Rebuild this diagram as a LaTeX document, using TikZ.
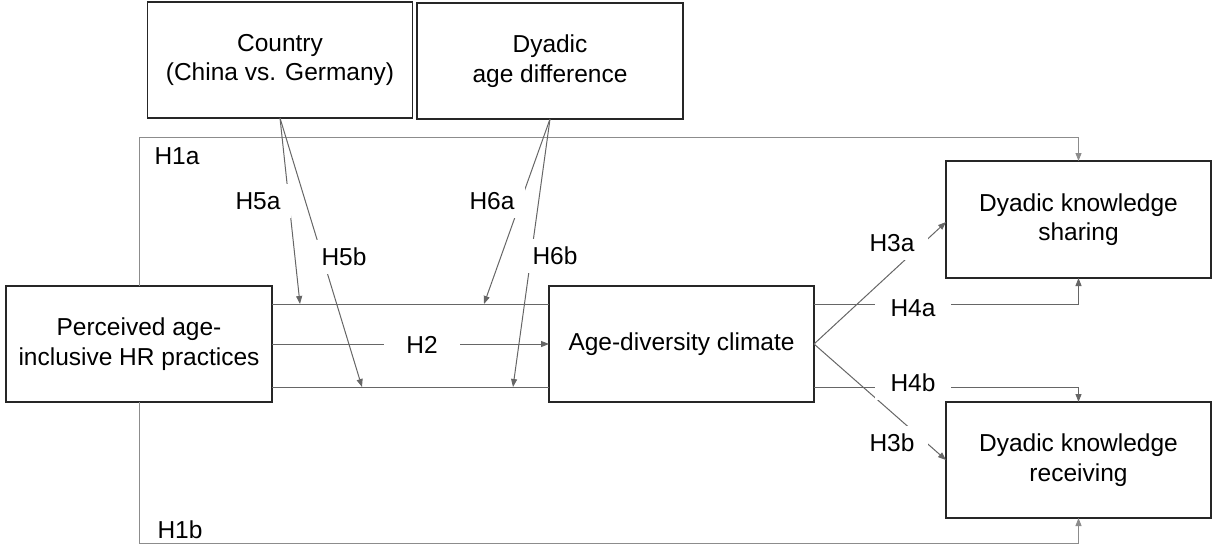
\documentclass[tikz,border=0pt]{standalone}
\usepackage{fontspec}
\setmainfont{Liberation Sans}
\usetikzlibrary{arrows.meta}
\begin{document}
\begin{tikzpicture}[x=1pt,y=-1pt,
  box/.style={draw=black!85, line width=1.4pt, fill=white, inner sep=0pt, outer sep=0pt, align=center,
    font=\fontsize{24.5}{29.5}\selectfont, minimum width=265pt, minimum height=116pt},
  con/.style={draw=black!60, line width=1pt},
  arr/.style={con, -{Triangle[length=8pt,width=6pt]}},
  lightarr/.style={arr, draw=black!45},
  lab/.style={fill=white, inner xsep=11pt, inner ysep=8pt, font=\fontsize{24.5}{29.5}\selectfont},
  plainlab/.style={inner sep=0pt, font=\fontsize{24.5}{29.5}\selectfont},
]
\useasboundingbox (0,0) rectangle (1212,544);

% boxes
\node[box] (country) at (280,60) {Country\\(China vs. Germany)};
\node[box, minimum width=266pt] (dyad) at (550,61) {Dyadic\\age difference};
\node[box, minimum width=266pt] (perc) at (139,344) {Perceived age-\\inclusive HR practices};
\node[box] (age) at (681.5,344) {Age-diversity climate};
\node[box, minimum height=117pt] (share) at (1078.5,219.5) {Dyadic knowledge\\sharing};
\node[box] (recv) at (1078.5,460) {Dyadic knowledge\\receiving};

% free ends
\coordinate (h1top) at (139,137);
\coordinate (h1bot) at (139,543);
\coordinate (t5a) at (300,304);
\coordinate (t5b) at (362,387);
\coordinate (t6a) at (484,304);
\coordinate (t6b) at (513,387);

% H1a / H1b
\draw[lightarr] (perc.north) -- (h1top) -| (share.north);
\draw[lightarr] (perc.south) -- (h1bot) -| (recv.south);

% upper / lower lines and H2
\draw[con] ([yshift=40pt]perc.east) -- ([yshift=40pt]age.west);
\draw[con] ([yshift=-43pt]perc.east) -- ([yshift=-43pt]age.west);
\draw[arr] (perc.east) -- (age.west);

% moderators
\draw[arr] (country.south) -- (t5a);
\draw[arr] (country.south) -- (t5b);
\draw[arr] (dyad.south) -- (t6a);
\draw[arr] (dyad.south) -- (t6b);

% outcomes
\draw[arr] (age.east) -- ([yshift=-2.5pt]share.west);
\draw[arr] (age.east) -- (recv.west);
\draw[arr] ([yshift=40pt]age.east) -| (share.south);
\draw[arr] ([yshift=-43pt]age.east) -| (recv.north);

% labels
\node[plainlab] (l1a) at (177,156) {H1a};
\node[plainlab] (l1b) at (180,530) {H1b};
\node[lab] (l5a) at (258,201) {H5a};
\node[lab] (l5b) at (344,257) {H5b};
\node[lab] (l6a) at (492,201) {H6a};
\node[lab] (l6b) at (555,256) {H6b};
\node[lab, inner xsep=22pt] (l2) at (422,345) {H2};
\node[lab, inner xsep=16pt] (l4a) at (913,308) {H4a};
\node[lab, inner xsep=16pt] (l4b) at (913,383) {H4b};
\node[lab, inner xsep=14pt] (l3a) at (892,243) {H3a};
\node[lab, inner xsep=14pt] (l3b) at (892,443) {H3b};
\end{tikzpicture}
\end{document}
